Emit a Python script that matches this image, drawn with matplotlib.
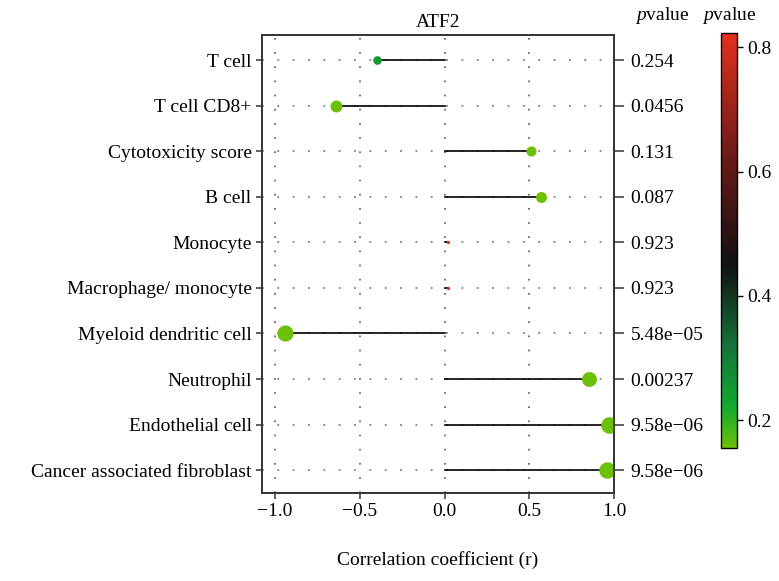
import numpy as np
import matplotlib
matplotlib.use("Agg")
from matplotlib import pyplot as plt
from matplotlib.colors import LinearSegmentedColormap, Normalize

plt.rcParams['font.family'] = ['Liberation Serif', 'DejaVu Serif']
plt.rcParams['mathtext.fontset'] = 'custom'
plt.rcParams['mathtext.rm'] = 'Liberation Serif'
plt.rcParams['mathtext.it'] = 'Liberation Serif:italic'

cells = ['T cell', 'T cell CD8+', 'Cytotoxicity score', 'B cell', 'Monocyte',
         'Macrophage/ monocyte', 'Myeloid dendritic cell', 'Neutrophil',
         'Endothelial cell', 'Cancer associated fibroblast']
r = [-0.40, -0.64, 0.51, 0.57, 0.02, 0.02, -0.94, 0.85, 0.97, 0.96]
pval = [0.254, 0.0456, 0.131, 0.087, 0.923, 0.923, 5.48e-05, 0.00237, 9.58e-06, 9.58e-06]
plabels = ['0.254', '0.0456', '0.131', '0.087', '0.923', '0.923',
           '5.48e\u221205', '0.00237', '9.58e\u221206', '9.58e\u221206']

cmap = LinearSegmentedColormap.from_list(
    'pv', [(0.0, '#6cc00a'), (0.1, '#12a832'), (0.25, '#17703a'),
           (0.44, '#111111'), (0.7, '#6a1a18'), (1.0, '#e3301f')])
norm = Normalize(vmin=0.155, vmax=0.823)

fig = plt.figure(figsize=(7.79, 5.81), dpi=100)
ax = fig.add_axes([262/779, 1-493/581, (614-262)/779, (493-35)/581])

y = np.arange(len(cells))
ax.set_xlim(-1.077, 1.0)
ax.set_ylim(len(cells) - 0.5, -0.55)

# dotted grid
for xv in [-1.0, -0.5, 0.0, 0.5]:
    ax.axvline(xv, color='#555555', lw=1.2, ls=(0, (1, 7.5)), zorder=0)
for yv in y:
    ax.axhline(yv, color='#808080', lw=1.3, ls=(0, (1, 7.5)), zorder=0)

for yi, ri, pi in zip(y, r, pval):
    ax.plot([0, ri], [yi, yi], color='black', lw=1.2, zorder=2)
    d = (3 + 14 * abs(ri)) * 0.72
    ax.scatter([ri], [yi], s=d ** 2, color=cmap(norm(min(max(pi, 0.155), 0.823))),
               zorder=3, linewidths=0)

ax.set_yticks(y)
ax.set_yticklabels(cells, fontsize=14)
ax.set_xticks([-1.0, -0.5, 0.0, 0.5, 1.0])
ax.set_xticklabels(['\u22121.0', '\u22120.5', '0.0', '0.5', '1.0'], fontsize=14)
ax.tick_params(direction='out', length=4, color='#444444', width=1.2)
for s in ax.spines.values():
    s.set_color('#333333')
    s.set_linewidth(1.2)
ax.set_xlabel('Correlation coefficient (r)', fontsize=14, labelpad=22)
ax.set_title('ATF2', fontsize=14, pad=6)

ax2 = ax.twinx()
ax2.set_ylim(ax.get_ylim())
ax2.set_yticks(y)
ax2.set_yticklabels(plabels, fontsize=14)
ax2.tick_params(direction='out', length=7, color='#444444', width=1.2, pad=5)
for s in ax2.spines.values():
    s.set_color('#333333')
    s.set_linewidth(1.2)
fig.text(662/779, 1-15/581, r'$\it{p}$value', fontsize=14, ha='center', va='center')

cax = fig.add_axes([721/779, 1-448/581, 16/779, (448-33)/581])
sm = plt.cm.ScalarMappable(norm=norm, cmap=cmap)
cb = fig.colorbar(sm, cax=cax, ticks=[0.2, 0.4, 0.6, 0.8])
cb.ax.tick_params(labelsize=14, length=4, width=1)
cb.outline.set_linewidth(1.0)
fig.text(729/779, 1-15/581, r'$\it{p}$value', fontsize=14, ha='center', va='center')

fig.savefig('out.png', dpi=100)
